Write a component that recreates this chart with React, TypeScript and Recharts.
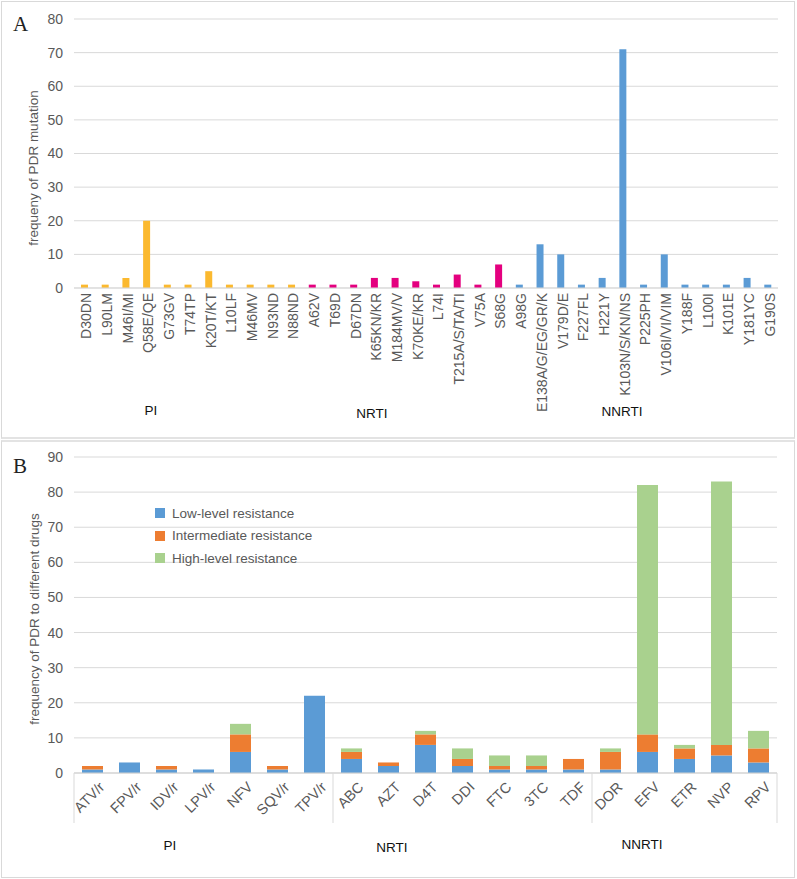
import React from "react";
import { BarChart, Bar, XAxis, YAxis, CartesianGrid, Cell, Legend } from "recharts";

// panel A: PDR mutations
const mutations = [
  "D30DN", "L90LM", "M46I/MI", "Q58E/QE", "G73GV", "T74TP", "K20T/KT", "L10LF", "M46MV", "N93ND", "N88ND",
  "A62V", "T69D", "D67DN", "K65KN/KR", "M184MV/V", "K70KE/KR", "L74I", "T215A/S/TA/TI", "V75A", "S68G",
  "A98G", "E138A/G/EG/GR/K", "V179D/E", "F227FL", "H221Y", "K103N/S/KN/NS", "P225PH", "V106I/VI/VIM",
  "Y188F", "L100I", "K101E", "Y181YC", "G190S",
];
const mutationCounts = [
  1, 1, 3, 20, 1, 1, 5, 1, 1, 1, 1,
  1, 1, 1, 3, 3, 2, 1, 4, 1, 7,
  1, 13, 10, 1, 3, 71, 1, 10, 1, 1, 1, 3, 1,
];
const mutationClass = [
  "PI", "PI", "PI", "PI", "PI", "PI", "PI", "PI", "PI", "PI", "PI",
  "NRTI", "NRTI", "NRTI", "NRTI", "NRTI", "NRTI", "NRTI", "NRTI", "NRTI", "NRTI",
  "NNRTI", "NNRTI", "NNRTI", "NNRTI", "NNRTI", "NNRTI", "NNRTI", "NNRTI", "NNRTI", "NNRTI", "NNRTI", "NNRTI", "NNRTI",
];
const mutationTicks = [0, 10, 20, 30, 40, 50, 60, 70, 80];

// panel B: resistance by drug
const drugs = [
  "ATV/r", "FPV/r", "IDV/r", "LPV/r", "NFV", "SQV/r", "TPV/r",
  "ABC", "AZT", "D4T", "DDI", "FTC", "3TC", "TDF",
  "DOR", "EFV", "ETR", "NVP", "RPV",
];
const drugClass = [
  "PI", "PI", "PI", "PI", "PI", "PI", "PI",
  "NRTI", "NRTI", "NRTI", "NRTI", "NRTI", "NRTI", "NRTI",
  "NNRTI", "NNRTI", "NNRTI", "NNRTI", "NNRTI",
];
const lowLevel = [1, 3, 1, 1, 6, 1, 22, 4, 2, 8, 2, 1, 1, 1, 1, 6, 4, 5, 3];
const intermediate = [1, 0, 1, 0, 5, 1, 0, 2, 1, 3, 2, 1, 1, 3, 5, 5, 3, 3, 4];
const highLevel = [0, 0, 0, 0, 3, 0, 0, 1, 0, 1, 3, 3, 3, 0, 1, 71, 1, 75, 5];
const drugTicks = [0, 10, 20, 30, 40, 50, 60, 70, 80, 90];
const levelNames = ["Low-level resistance", "Intermediate resistance", "High-level resistance"];

const classColors: Record<string, string> = {
  PI: "#FBB92F",
  NRTI: "#E4007F",
  NNRTI: "#5B9BD5",
};

const mutationData = mutations.map((m, i) => ({ mutation: m, count: mutationCounts[i] }));
const drugData = drugs.map((d, i) => ({
  drug: d,
  low: lowLevel[i],
  intermediate: intermediate[i],
  high: highLevel[i],
}));

const FONT = "'Liberation Sans', Arial, sans-serif";
const GRAY = "#595959";
const B_PLOT_W = 703;
const halfBand = B_PLOT_W / drugs.length / 2;

const MutationTick = ({ x, y, payload }: any) => (
  <text
    x={x}
    y={y}
    transform={`rotate(-90 ${x} ${y})`}
    textAnchor="end"
    dy="0.5em"
    fontSize={14}
    fontFamily={FONT}
    fill={GRAY}
  >
    {payload.value}
  </text>
);

const DrugTick = ({ x, y, payload, index }: any) => {
  const first = index === 0 || drugClass[index - 1] !== drugClass[index];
  const last = index === drugs.length - 1;
  const tx = x + 13;
  const ty = y + 15;
  return (
    <g>
      {first && (
        <line x1={x - halfBand} x2={x - halfBand} y1={y} y2={y + 50} stroke="#d9d9d9" />
      )}
      {last && (
        <line x1={x + halfBand} x2={x + halfBand} y1={y} y2={y + 50} stroke="#d9d9d9" />
      )}
      <text
        x={tx}
        y={ty}
        transform={`rotate(-45 ${tx} ${ty})`}
        textAnchor="end"
        fontSize={14.5}
        fontFamily={FONT}
        fill={GRAY}
      >
        {payload.value}
      </text>
    </g>
  );
};

const renderLegend = ({ payload }: any) => {
  const items = [...(payload || [])].sort(
    (a: any, b: any) => levelNames.indexOf(a.value) - levelNames.indexOf(b.value)
  );
  return (
    <div style={{ fontFamily: FONT }}>
      {items.map((e: any) => (
        <div key={e.value} style={{ display: "flex", alignItems: "center", height: 22.5 }}>
          <span style={{ width: 10, height: 10, background: e.color, marginRight: 7 }} />
          <span style={{ fontSize: 13.5, color: GRAY }}>{e.value}</span>
        </div>
      ))}
    </div>
  );
};

const App = () => {
  const panel = {
    position: "absolute" as const,
    left: 1,
    width: 792,
    border: "1px solid #d9d9d9",
    background: "#fff",
  };
  const groupText = { fontSize: 13.5, fontFamily: FONT, fill: "#111" };
  return (
    <div style={{ position: "absolute", left: 0, top: 0, width: 797, height: 879, background: "#fff" }}>
      <div style={{ ...panel, top: 1, height: 435, borderBottom: "2px solid #e3e3e3" }} />
      <div style={{ ...panel, top: 440, height: 435, borderTop: "2px solid #e3e3e3" }} />

      <div style={{ position: "absolute", left: 0, top: 0 }}>
        <BarChart
          width={797}
          height={438}
          data={mutationData}
          margin={{ top: 19, right: 19, bottom: 0, left: 0 }}
        >
          <CartesianGrid vertical={false} stroke="#d9d9d9" />
          <XAxis
            dataKey="mutation"
            interval={0}
            height={150}
            tickLine={false}
            tickSize={4}
            tickMargin={1}
            axisLine={{ stroke: "#d9d9d9" }}
            tick={<MutationTick />}
          />
          <YAxis
            width={74}
            domain={[0, 80]}
            ticks={mutationTicks}
            axisLine={false}
            tickLine={false}
            tickSize={8}
            tickMargin={3}
            tick={{ fontSize: 14, fill: GRAY, fontFamily: FONT }}
          />
          <Bar dataKey="count" barSize={7} isAnimationActive={false}>
            {mutationData.map((d, i) => (
              <Cell key={d.mutation} fill={classColors[mutationClass[i]]} />
            ))}
          </Bar>
        </BarChart>
      </div>

      <div style={{ position: "absolute", left: 0, top: 440 }}>
        <BarChart
          width={797}
          height={437}
          data={drugData}
          margin={{ top: 17, right: 20, bottom: 0, left: 0 }}
        >
          <CartesianGrid vertical={false} stroke="#d9d9d9" />
          <XAxis
            dataKey="drug"
            interval={0}
            height={104}
            tickLine={false}
            tickSize={0}
            tickMargin={0}
            axisLine={{ stroke: "#d0d0d0" }}
            tick={<DrugTick />}
          />
          <YAxis
            width={74}
            domain={[0, 90]}
            ticks={drugTicks}
            axisLine={false}
            tickLine={false}
            tickSize={8}
            tickMargin={3}
            tick={{ fontSize: 14, fill: GRAY, fontFamily: FONT }}
          />
          <Legend
            layout="vertical"
            align="center"
            verticalAlign="middle"
            content={renderLegend}
            wrapperStyle={{ left: 155, top: 62, width: "auto", height: "auto" }}
          />
          <Bar dataKey="low" name={levelNames[0]} stackId="r" fill="#5B9BD5" barSize={21} isAnimationActive={false} />
          <Bar dataKey="intermediate" name={levelNames[1]} stackId="r" fill="#ED7D31" barSize={21} isAnimationActive={false} />
          <Bar dataKey="high" name={levelNames[2]} stackId="r" fill="#A9D18E" barSize={21} isAnimationActive={false} />
        </BarChart>
      </div>

      <svg
        width={797}
        height={879}
        style={{ position: "absolute", left: 0, top: 0, pointerEvents: "none" }}
      >
        <text x={13} y={31} fontSize={21} fontFamily="'Liberation Serif', serif" fill="#222">A</text>
        <text x={13} y={473} fontSize={21} fontFamily="'Liberation Serif', serif" fill="#222">B</text>
        <text
          x={33}
          y={168}
          transform="rotate(-90 33 168)"
          textAnchor="middle"
          dominantBaseline="central"
          fontSize={13.5}
          fontFamily={FONT}
          fill={GRAY}
        >
          frequeny of PDR mutation
        </text>
        <text
          x={34}
          y={619}
          transform="rotate(-90 34 619)"
          textAnchor="middle"
          dominantBaseline="central"
          fontSize={13.5}
          fontFamily={FONT}
          fill={GRAY}
        >
          frequency of PDR to different drugs
        </text>
        <text x={151} y={410} textAnchor="middle" dominantBaseline="central" {...groupText}>PI</text>
        <text x={372} y={413} textAnchor="middle" dominantBaseline="central" {...groupText}>NRTI</text>
        <text x={622} y={411} textAnchor="middle" dominantBaseline="central" {...groupText}>NNRTI</text>
        <text x={170} y={845} textAnchor="middle" dominantBaseline="central" {...groupText}>PI</text>
        <text x={392} y={847} textAnchor="middle" dominantBaseline="central" {...groupText}>NRTI</text>
        <text x={642} y={844} textAnchor="middle" dominantBaseline="central" {...groupText}>NNRTI</text>
      </svg>
    </div>
  );
};

export default App;
